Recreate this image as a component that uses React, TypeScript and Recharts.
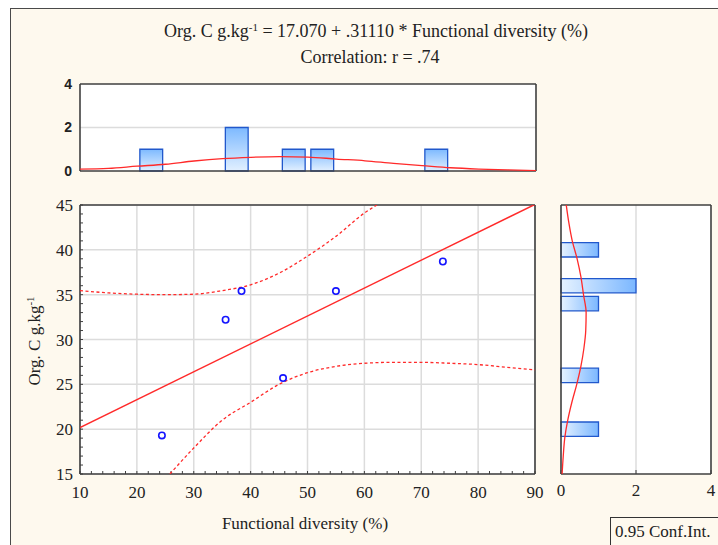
import React from "react";
import { ComposedChart, Scatter, XAxis, YAxis, CartesianGrid, ReferenceArea } from "recharts";

// axis ticks
const xTicks = [10, 20, 30, 40, 50, 60, 70, 80, 90];
const yTicks = [15, 20, 25, 30, 35, 40, 45];
const countTicks = [0, 2, 4];
const topHistEdgeTicks = [20, 30, 40, 50, 60, 70, 80];
const sideHistEdgeTicks = [17, 19, 21, 23, 25, 27, 29, 31, 33, 35, 37, 39, 41, 43];

// observations
const diversity = [24.4, 35.6, 38.4, 45.7, 55.0, 73.8];
const orgC = [19.3, 32.2, 35.4, 25.7, 35.4, 38.7];

// fitted line (Org. C = 17.070 + .31110 * FD), read at the plot edges
const fitX = [10, 90];
const fitY = [20.18, 45.07];

// 0.95 confidence band
const upperX = [10, 15, 20, 25, 30, 35, 40, 45, 50, 55, 60, 62.2];
const upperY = [35.45, 35.2, 35.05, 35.0, 35.05, 35.45, 36.1, 37.4, 39.3, 41.5, 44.1, 45];
const lowerX = [25.8, 30, 35, 40, 45, 50, 55, 60, 65, 70, 75, 80, 85, 90];
const lowerY = [15, 17.9, 21.0, 23.0, 25.0, 26.3, 27.0, 27.35, 27.45, 27.45, 27.35, 27.2, 26.9, 26.6];

// histogram of functional diversity (top)
const divBinLo = [20.5, 35.5, 45.5, 50.5, 70.5];
const divBinHi = [24.5, 39.5, 49.5, 54.5, 74.5];
const divCount = [1, 2, 1, 1, 1];
const divCurveX = [10, 15, 20, 25, 30, 35, 40, 45, 50, 55, 60, 65, 70, 75, 80, 85, 90];
const divCurveY = [0.09, 0.12, 0.22, 0.31, 0.46, 0.57, 0.63, 0.66, 0.64, 0.55, 0.47, 0.35, 0.25, 0.15, 0.09, 0.05, 0.02];

// histogram of Org. C (right)
const cBinLo = [19.2, 25.2, 33.2, 35.2, 39.2];
const cBinHi = [20.8, 26.8, 34.8, 36.8, 40.8];
const cCount = [1, 1, 1, 2, 1];
const cCurveY = [15, 17, 19, 21, 23, 25, 27, 29, 31, 33, 35, 37, 39, 41, 43, 45];
const cCurveX = [0.03, 0.06, 0.1, 0.18, 0.29, 0.42, 0.53, 0.61, 0.66, 0.67, 0.6, 0.53, 0.43, 0.3, 0.21, 0.14];

const SERIF = '"Liberation Serif", "Times New Roman", serif';
const SANS = '"Liberation Sans", Arial, sans-serif';
const CREAM = "#FEF9EE";
const FRAME = "#3f3f3f";
const GRID = "#dcdcdc";
const RED = "#ff2a2a";
const BAR_EDGE = "#2158cc";

const range = (a: number, b: number, s: number) => {
  const out: number[] = [];
  for (let v = a; v <= b + 1e-9; v += s) out.push(Math.round(v * 100) / 100);
  return out;
};
const xMinor = range(10, 90, 2);
const yMinor = range(15, 45, 1);

const zip = (xs: number[], ys: number[]) => xs.map((x, i) => ({ x, y: ys[i] }));
const points = zip(diversity, orgC);
const fitLine = zip(fitX, fitY);
const upperBand = zip(upperX, upperY);
const lowerBand = zip(lowerX, lowerY);
const divCurve = zip(divCurveX, divCurveY);
const cCurve = zip(cCurveX, cCurveY);

const noDot = () => <g />;
const ring = (p: any) => (
  <circle cx={p.cx} cy={p.cy} r={3.2} fill="none" stroke="#1414ff" strokeWidth={1.6} />
);

const axisLine = { stroke: FRAME, strokeWidth: 1.6 };
const tickLine = { stroke: FRAME, strokeWidth: 1 };
const serifTick = { fill: "#222", fontSize: 17, fontFamily: SERIF };
const dashed = { stroke: RED, strokeWidth: 1.3, strokeDasharray: "3 2.5" };

const TopHistogram = () => (
  <ComposedChart width={541} height={113} margin={{ top: 13, right: 0, bottom: 0, left: 0 }}>
    <defs>
      <linearGradient id="gv" x1="0" y1="0" x2="0" y2="1">
        <stop offset="0%" stopColor="#7db9ff" />
        <stop offset="100%" stopColor="#e2f0ff" />
      </linearGradient>
    </defs>
    <CartesianGrid fill="#fff" fillOpacity={1} stroke={GRID} strokeWidth={1.5} vertical={false} horizontalValues={[2]} />
    <XAxis type="number" dataKey="x" domain={[10, 90]} ticks={topHistEdgeTicks} interval={0} tick={false}
      height={12} tickSize={-4} axisLine={axisLine} tickLine={tickLine} allowDataOverflow />
    <XAxis xAxisId="t" orientation="top" type="number" domain={[10, 90]} ticks={topHistEdgeTicks} interval={0}
      tick={false} height={1} tickSize={-4} axisLine={axisLine} tickLine={tickLine} allowDataOverflow />
    <YAxis type="number" dataKey="y" domain={[0, 4]} ticks={countTicks} interval={0} width={80} tickSize={0}
      tickMargin={8} axisLine={axisLine} tickLine={false}
      tick={{ fill: "#222", fontSize: 14, fontWeight: 700, fontFamily: SANS }} allowDataOverflow />
    <YAxis yAxisId="r" orientation="right" type="number" domain={[0, 4]} ticks={[2]} tick={false} width={5}
      tickSize={-4} axisLine={axisLine} tickLine={tickLine} allowDataOverflow />
    {divBinLo.map((lo, i) => (
      <ReferenceArea key={i} x1={lo} x2={divBinHi[i]} y1={0} y2={divCount[i]} fill="url(#gv)" fillOpacity={1}
        stroke={BAR_EDGE} strokeWidth={1.3} ifOverflow="visible" />
    ))}
    <Scatter data={divCurve} shape={noDot} line={{ stroke: RED, strokeWidth: 1.3 }} lineJointType="monotoneX"
      isAnimationActive={false} />
  </ComposedChart>
);

const MainPlot = () => (
  <ComposedChart width={550} height={324} margin={{ top: 14, right: 10, bottom: 0, left: 0 }}>
    <CartesianGrid fill="#fff" fillOpacity={1} stroke={GRID} strokeWidth={1.5} verticalValues={xTicks} horizontalValues={yTicks} />
    <XAxis type="number" dataKey="x" domain={[10, 90]} ticks={xMinor} interval={0}
      tickFormatter={(v: number) => (v % 10 === 0 ? String(v) : "")} height={40} tickSize={-3} tickMargin={15}
      axisLine={axisLine} tickLine={tickLine} tick={serifTick} allowDataOverflow />
    <XAxis xAxisId="t" orientation="top" type="number" domain={[10, 90]} ticks={xMinor} interval={0} tick={false}
      height={1} tickSize={-3} axisLine={axisLine} tickLine={tickLine} allowDataOverflow />
    <YAxis type="number" dataKey="y" domain={[15, 45]} ticks={yMinor} interval={0}
      tickFormatter={(v: number) => (v % 5 === 0 ? String(v) : "")} width={80} tickSize={-3} tickMargin={10}
      axisLine={axisLine} tickLine={tickLine} tick={serifTick} allowDataOverflow />
    <YAxis yAxisId="r" orientation="right" type="number" domain={[15, 45]} ticks={yMinor} interval={0} tick={false}
      width={5} tickSize={-3} axisLine={axisLine} tickLine={tickLine} allowDataOverflow />
    <Scatter data={upperBand} shape={noDot} line={dashed} lineJointType="monotoneX" isAnimationActive={false} />
    <Scatter data={lowerBand} shape={noDot} line={dashed} lineJointType="monotoneX" isAnimationActive={false} />
    <Scatter data={fitLine} shape={noDot} line={{ stroke: RED, strokeWidth: 1.4 }} isAnimationActive={false} />
    <Scatter data={points} shape={ring} isAnimationActive={false} />
  </ComposedChart>
);

const SideHistogram = () => (
  <ComposedChart width={172} height={324} margin={{ top: 14, right: 5, bottom: 0, left: 0 }}>
    <defs>
      <linearGradient id="gh" x1="0" y1="0" x2="1" y2="0">
        <stop offset="0%" stopColor="#e6f2ff" />
        <stop offset="100%" stopColor="#7bb7ff" />
      </linearGradient>
    </defs>
    <CartesianGrid fill="#fff" fillOpacity={1} stroke={GRID} strokeWidth={1.5} horizontal={false} verticalValues={[2]} />
    <XAxis type="number" dataKey="x" domain={[0, 4]} ticks={countTicks} interval={0} height={40} tickSize={-4}
      tickMargin={14} axisLine={axisLine} tickLine={tickLine} tick={serifTick} allowDataOverflow />
    <XAxis xAxisId="t" orientation="top" type="number" domain={[0, 4]} ticks={[2]} tick={false} height={1}
      tickSize={-4} axisLine={axisLine} tickLine={tickLine} allowDataOverflow />
    <YAxis type="number" dataKey="y" domain={[15, 45]} ticks={sideHistEdgeTicks} interval={0} tick={false} width={16}
      tickSize={-3} axisLine={axisLine} tickLine={tickLine} allowDataOverflow />
    <YAxis yAxisId="r" orientation="right" type="number" domain={[15, 45]} ticks={sideHistEdgeTicks} interval={0}
      tick={false} width={1} tickSize={-3} axisLine={axisLine} tickLine={tickLine} allowDataOverflow />
    {cBinLo.map((lo, i) => (
      <ReferenceArea key={i} x1={0} x2={cCount[i]} y1={lo} y2={cBinHi[i]} fill="url(#gh)" fillOpacity={1}
        stroke={BAR_EDGE} strokeWidth={1.3} ifOverflow="visible" />
    ))}
    <Scatter data={cCurve} shape={noDot} line={{ stroke: RED, strokeWidth: 1.3 }} lineJointType="monotoneY"
      isAnimationActive={false} />
  </ComposedChart>
);

export default function App() {
  return (
    <div style={{ position: "fixed", inset: 0, background: "#fff", overflow: "hidden", fontFamily: SERIF }}>
      <div
        style={{
          position: "absolute", left: 10, top: 8, width: 800, height: 600, background: CREAM,
          borderLeft: "1.5px solid #4a4a4a", borderTop: "1.5px solid #4a4a4a",
        }}
      />
      <div style={{ position: "absolute", left: 0, top: 70 }}>
        <TopHistogram />
      </div>
      <div style={{ position: "absolute", left: 0, top: 190 }}>
        <MainPlot />
      </div>
      <div style={{ position: "absolute", left: 545, top: 190 }}>
        <SideHistogram />
      </div>
      <svg width={718} height={545} style={{ position: "absolute", left: 0, top: 0, pointerEvents: "none" }}>
        <g fill="#222" fontFamily={SERIF}>
          <text x={376} y={37} textAnchor="middle" fontSize={18}>
            Org. C g.kg<tspan dy={-6} fontSize={11}>-1</tspan>
            <tspan dy={6}> = 17.070 + .31110 * Functional diversity (%)</tspan>
          </text>
          <text x={370} y={63} textAnchor="middle" fontSize={18}>Correlation: r = .74</text>
          <text x={305} y={529} textAnchor="middle" fontSize={17}>Functional diversity (%)</text>
          <text transform="translate(40,341) rotate(-90)" textAnchor="middle" fontSize={17}>
            Org. C g.kg<tspan dy={-6} fontSize={11}>-1</tspan>
          </text>
        </g>
        <rect x={610.5} y={517.5} width={200} height={60} fill={CREAM} stroke="#333" strokeWidth={1} />
        <text x={615} y={537} fontSize={17} fill="#222" fontFamily={SERIF}>0.95 Conf.Int.</text>
      </svg>
    </div>
  );
}
